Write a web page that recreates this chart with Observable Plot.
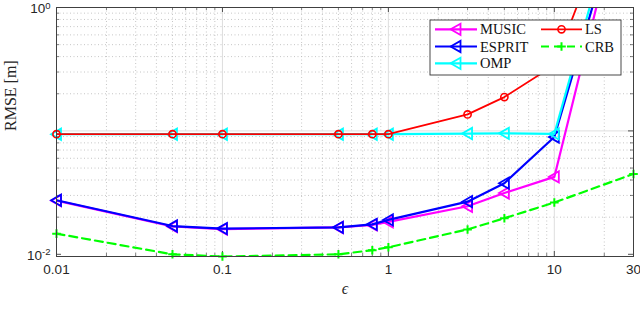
<!DOCTYPE html>
<html>
<head>
<meta charset="utf-8">
<script src="https://cdn.jsdelivr.net/npm/d3@7"></script>
<script src="https://cdn.jsdelivr.net/npm/@observablehq/plot@0.6"></script>
<style>
  html, body { margin: 0; padding: 0; background: white; }
  svg { display: block; }
</style>
</head>
<body>
<div id="chart"></div>
<script>
// ---- data ----
const eps    = [0.01, 0.05, 0.1, 0.5, 0.8, 1, 3, 5, 10, 30];
const music  = [0.0272, 0.0168, 0.0160, 0.0165, 0.0173, 0.0183, 0.0245, 0.0314, 0.0424, 16.5];
const esprit = [0.0274, 0.01695, 0.01615, 0.01655, 0.0175, 0.0190, 0.0267, 0.0377, 0.0893, 13.7];
const omp    = [0.094, 0.094, 0.094, 0.094, 0.094, 0.094, 0.0952, 0.0955, 0.0945, 18.7];
const ls     = [0.094, 0.094, 0.094, 0.094, 0.094, 0.094, 0.136, 0.188, 0.34, 16];
const crb    = [0.0147, 0.0100, 0.0096, 0.0100, 0.0108, 0.0114, 0.0159, 0.0196, 0.0263, 0.0448];

const seriesNames = ["MUSIC", "ESPRIT", "OMP", "LS", "CRB"];
const seriesColors = ["#ff00ff", "#0000ff", "#00ffff", "#ff0000", "#00ff00"];

const xTickValues = [0.01, 0.1, 1, 10, 30];
const xTickLabels = ["0.01", "0.1", "1", "10", "30"];
const xMinorTicks = [0.02,0.03,0.04,0.05,0.06,0.07,0.08,0.09,0.2,0.3,0.4,0.5,0.6,0.7,0.8,0.9,2,3,4,5,6,7,8,9,20];
const xGridMajor = [0.1, 1, 10];
const yTickValues = [0.01, 0.1, 1];
const yLabelValues = [0.01, 1];
const yTickLabels = ["10^-2", "10^0"];
const yMinorTicks = [0.02,0.03,0.04,0.05,0.06,0.07,0.08,0.09,0.2,0.3,0.4,0.5,0.6,0.7,0.8,0.9];
const yGridMajor = [0.1];

const rows = s => eps.map((e, i) => ({x: e, y: s[i]}));

// custom symbols
const triLeft = {draw(ctx, size) { const r = Math.sqrt(size / Math.PI);
  ctx.moveTo(-1.2 * r, 0); ctx.lineTo(1.0 * r, -1.25 * r); ctx.lineTo(1.0 * r, 1.25 * r); ctx.closePath(); }};
const plus = {draw(ctx, size) { const r = Math.sqrt(size / Math.PI);
  ctx.moveTo(-r, 0); ctx.lineTo(r, 0); ctx.moveTo(0, -r); ctx.lineTo(0, r); }};

const H = 324, MT = 7, MB = 68, PH = H - MT - MB;
const sans = "'Liberation Sans', Arial, Helvetica, sans-serif";
const serif = "'Liberation Serif', 'Times New Roman', serif";
const tickColor = "#262626";

function seriesMarks(data, color, kind) {
  const line = Plot.line(data, {x: "x", y: "y", stroke: color, strokeWidth: kind === "circle" ? 1.8 : 2.2,
    strokeDasharray: kind === "plus" ? "8,5" : null, clip: true});
  let dot;
  if (kind === "tri") dot = Plot.dot(data, {x: "x", y: "y", filter: d => d.y <= 1, symbol: triLeft, r: 4.5, stroke: color, fill: "none", strokeWidth: 1.8});
  else if (kind === "circle") dot = Plot.dot(data, {x: "x", y: "y", filter: d => d.y <= 1, symbol: "circle", r: 3.6, stroke: color, fill: "none", strokeWidth: 1.6});
  else dot = Plot.dot(data, {x: "x", y: "y", filter: d => d.y <= 1, symbol: plus, r: 4.3, stroke: color, fill: "none", strokeWidth: 2});
  return [line, dot];
}

const chart = Plot.plot({
  width: 640, height: H,
  marginLeft: 56, marginRight: 7, marginTop: MT, marginBottom: MB,
  x: {type: "log", domain: [0.01, 30], axis: null},
  y: {type: "log", domain: [0.0096, 1], axis: null},
  style: {background: "white", overflow: "visible"},
  marks: [
    // grid
    Plot.ruleX(xMinorTicks, {x: d => d, stroke: "#b8b8b8", strokeWidth: 0.8, strokeDasharray: "1,2.5"}),
    Plot.ruleY(yMinorTicks, {y: d => d, stroke: "#b8b8b8", strokeWidth: 0.8, strokeDasharray: "1,2.5"}),
    Plot.ruleX(xGridMajor, {x: d => d, stroke: "#dedede", strokeWidth: 1}),
    Plot.ruleY(yGridMajor, {y: d => d, stroke: "#dedede", strokeWidth: 1}),
    // inner ticks, all four sides
    Plot.tickX(xTickValues, {x: d => d, insetTop: PH - 5, stroke: tickColor, strokeWidth: 0.8}),
    Plot.tickX(xTickValues, {x: d => d, insetBottom: PH - 5, stroke: tickColor, strokeWidth: 0.8}),
    Plot.tickX(xMinorTicks, {x: d => d, insetTop: PH - 3, stroke: tickColor, strokeWidth: 0.6}),
    Plot.tickX(xMinorTicks, {x: d => d, insetBottom: PH - 3, stroke: tickColor, strokeWidth: 0.6}),
    Plot.tickY(yTickValues, {y: d => d, insetRight: 577 - 5, stroke: tickColor, strokeWidth: 0.8}),
    Plot.tickY(yTickValues, {y: d => d, insetLeft: 577 - 5, stroke: tickColor, strokeWidth: 0.8}),
    Plot.tickY(yMinorTicks, {y: d => d, insetRight: 577 - 3, stroke: tickColor, strokeWidth: 0.6}),
    Plot.tickY(yMinorTicks, {y: d => d, insetLeft: 577 - 3, stroke: tickColor, strokeWidth: 0.6}),
    // series
    ...seriesMarks(rows(music), seriesColors[0], "tri"),
    ...seriesMarks(rows(esprit), seriesColors[1], "tri"),
    ...seriesMarks(rows(omp), seriesColors[2], "tri"),
    ...seriesMarks(rows(ls), seriesColors[3], "circle"),
    ...seriesMarks(rows(crb), seriesColors[4], "plus"),
    Plot.frame({stroke: "#404040", strokeWidth: 1}),
    // tick labels
    Plot.text(xTickValues, {x: d => d, text: xTickLabels, frameAnchor: "bottom", dy: 17, fontSize: 13.5, fontFamily: sans, fill: "#262626"}),
    Plot.text(yLabelValues, {y: d => d, text: yTickLabels, frameAnchor: "left", dx: -6, dy: 1.5, textAnchor: "end", fontSize: 13.5, fontFamily: sans, fill: "#262626"}),
    // axis titles
    Plot.text(["ϵ"], {text: d => d, frameAnchor: "bottom", dy: 37, fontSize: 16, fontFamily: serif, fontStyle: "italic", fill: "#262626"}),
    Plot.text(["RMSE [m]"], {text: d => d, frameAnchor: "left", dx: -46, dy: -1, rotate: -90, fontSize: 16, fontFamily: serif, fill: "#262626"})
  ]
});

// superscripts for the y tick labels
d3.select(chart).selectAll("text").each(function() {
  const t = this.textContent;
  if (t.includes("^")) {
    const [base, exp] = t.split("^");
    const sel = d3.select(this);
    sel.text(base);
    sel.append("tspan").attr("dy", "-0.5em").attr("font-size", 9.5).text(exp);
  }
});

// legend (inside the axes, top right)
const svg = d3.select(chart);
const lg = svg.append("g").attr("font-family", serif).attr("font-size", 14.5).attr("text-anchor", "start");
lg.append("rect").attr("x", 430).attr("y", 20).attr("width", 191).attr("height", 55)
  .attr("fill", "white").attr("stroke", "#333").attr("stroke-width", 0.9);
const entries = [
  {i: 0, col: 0, row: 0, kind: "tri"},
  {i: 1, col: 0, row: 1, kind: "tri"},
  {i: 2, col: 0, row: 2, kind: "tri"},
  {i: 3, col: 1, row: 0, kind: "circle"},
  {i: 4, col: 1, row: 1, kind: "plus"}
];
const colX = [[435, 477, 480], [541, 582, 585]];
const rowY = [29.3, 46.5, 63.3];
for (const e of entries) {
  const [x1, x2, tx] = colX[e.col];
  const y = rowY[e.row];
  const c = seriesColors[e.i];
  const xm = (x1 + x2) / 2;
  lg.append("line").attr("x1", x1).attr("x2", x2).attr("y1", y).attr("y2", y)
    .attr("stroke", c).attr("stroke-width", e.kind === "circle" ? 1.8 : 2.2)
    .attr("stroke-dasharray", e.kind === "plus" ? "8,5" : null);
  if (e.kind === "tri") {
    const r = 4.5;
    lg.append("path").attr("d", `M${xm - 1.2*r},${y}L${xm + r},${y - 1.25*r}L${xm + r},${y + 1.25*r}Z`)
      .attr("fill", "none").attr("stroke", c).attr("stroke-width", 1.8);
  } else if (e.kind === "circle") {
    lg.append("circle").attr("cx", xm).attr("cy", y).attr("r", 3.6).attr("fill", "none").attr("stroke", c).attr("stroke-width", 1.6);
  } else {
    const r = 4.3;
    lg.append("path").attr("d", `M${xm - r},${y}H${xm + r}M${xm},${y - r}V${y + r}`)
      .attr("fill", "none").attr("stroke", c).attr("stroke-width", 2);
  }
  lg.append("text").attr("x", tx).attr("y", y).attr("dy", "0.35em").attr("text-anchor", "start")
    .attr("fill", "#111").text(seriesNames[e.i]);
}

document.getElementById("chart").appendChild(chart);
</script>
</body>
</html>
